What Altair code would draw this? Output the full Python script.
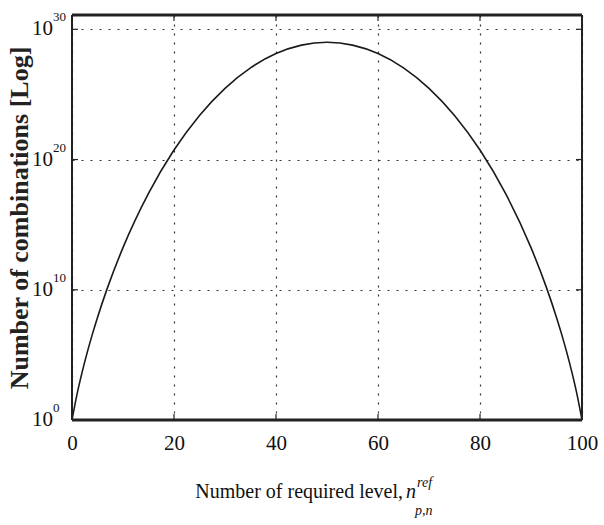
import altair as alt
import pandas as pd

# Number of combinations C(100, k) as log10 values, symmetric about k = 50
levels = [0, 1, 2, 3, 4, 5, 7, 10, 15, 20, 25, 30, 35, 40, 45, 50,
          55, 60, 65, 70, 75, 80, 85, 90, 93, 95, 96, 97, 98, 99, 100]
log_combinations = [0.0, 2.000, 3.695, 5.209, 6.593, 7.877, 10.204, 13.238, 17.404,
                    20.729, 23.385, 25.468, 27.040, 28.138, 28.789, 29.004,
                    28.789, 28.138, 27.040, 25.468, 23.385, 20.729, 17.404, 13.238,
                    10.204, 7.877, 6.593, 5.209, 3.695, 2.000, 0.0]

x_ticks = [0, 20, 40, 60, 80, 100]
y_ticks = [0, 10, 20, 30]
y_exponents = ["0", "10", "20", "30"]

W, H = 510, 405
SERIF = "Liberation Serif"

curve_df = pd.DataFrame({"k": levels, "logc": log_combinations})
ylab_df = pd.DataFrame({"v": y_ticks, "exp": y_exponents})

x_scale = alt.Scale(domain=[0, 100], nice=False)
y_scale = alt.Scale(domain=[0, 31.1], nice=False)

curve = alt.Chart(curve_df).mark_line(
    color="#1a1a1a", strokeWidth=1.6, interpolate="monotone"
).encode(
    x=alt.X("k:Q", scale=x_scale, axis=alt.Axis(
        values=x_ticks, title=None, domain=False, ticks=False, labelFlush=False,
        labelFont=SERIF, labelFontSize=21, labelColor="#111", labelPadding=12,
        grid=True, gridDash=[2, 7], gridColor="#333", gridWidth=1.2,
    )),
    y=alt.Y("logc:Q", scale=y_scale, axis=alt.Axis(
        values=y_ticks, title=None, domain=False, ticks=False, labels=False,
        grid=True, gridDash=[2, 7], gridColor="#333", gridWidth=1.2,
    )),
)

# y tick labels drawn as 10 with a raised exponent
base_ten = alt.Chart(ylab_df).mark_text(
    font=SERIF, fontSize=21, align="right", baseline="middle", color="#111"
).encode(y=alt.Y("v:Q", scale=y_scale), x=alt.value(-19), text=alt.value("10"))

exponent = alt.Chart(ylab_df).mark_text(
    font=SERIF, fontSize=13, align="left", baseline="middle", dy=-12, color="#111"
).encode(y=alt.Y("v:Q", scale=y_scale), x=alt.value(-19), text="exp:N")

# frame: heavy top and bottom edges, lighter sides
frame_h = alt.Chart(pd.DataFrame({"y": [0, H]})).mark_rule(
    color="#222", strokeWidth=3
).encode(y=alt.Y("y:Q", scale=None), x=alt.value(0), x2=alt.value(W))
frame_v = alt.Chart(pd.DataFrame({"x": [0, W]})).mark_rule(
    color="#222", strokeWidth=2
).encode(x=alt.X("x:Q", scale=None), y=alt.value(0), y2=alt.value(H))

# inward tick marks on the frame
tick_df = pd.DataFrame({"k": x_ticks})
ticks_bottom = alt.Chart(tick_df).mark_rule(color="#222", strokeWidth=1.2).encode(
    x=alt.X("k:Q", scale=x_scale), y=alt.value(H), y2=alt.value(H - 6))
ticks_top = alt.Chart(tick_df).mark_rule(color="#222", strokeWidth=1.2).encode(
    x=alt.X("k:Q", scale=x_scale), y=alt.value(0), y2=alt.value(6))
ticks_left = alt.Chart(ylab_df).mark_rule(color="#222", strokeWidth=1.2).encode(
    y=alt.Y("v:Q", scale=y_scale), x=alt.value(0), x2=alt.value(6))
ticks_right = alt.Chart(ylab_df).mark_rule(color="#222", strokeWidth=1.2).encode(
    y=alt.Y("v:Q", scale=y_scale), x=alt.value(W), x2=alt.value(W - 6))


def label(text, x, y, size, style="normal", align="left"):
    return alt.Chart(pd.DataFrame({"t": [text]})).mark_text(
        font=SERIF, fontSize=size, fontStyle=style,
        align=align, baseline="alphabetic", color="#111",
    ).encode(text="t:N", x=alt.value(x), y=alt.value(y))


# x axis title with n^{ref}_{p,n}
x_title = label("Number of required level,", 331, 483, 20, align="right")
x_title_n = label("n", 334, 483, 20, style="italic")
x_title_sup = label("ref", 345, 472, 14, style="italic")
x_title_sub = label("p,n", 343, 500, 14, style="italic")

y_title = alt.Chart(pd.DataFrame({"t": ["Number of combinations [Log]"]})).mark_text(
    font=SERIF, fontSize=26, fontWeight="bold", align="center",
    baseline="middle", angle=270, color="#222",
).encode(text="t:N", x=alt.value(-52), y=alt.value(203))

chart = alt.layer(
    curve, frame_h, frame_v, ticks_bottom, ticks_top, ticks_left, ticks_right,
    base_ten, exponent, x_title, x_title_n, x_title_sup, x_title_sub, y_title,
).properties(
    width=W, height=H,
    autosize=alt.AutoSizeParams(type="none"),
    padding={"left": 72, "top": 15, "right": 22, "bottom": 105},
).configure_view(stroke=None).configure(background="white")

chart.save("out.html", embed_options={"renderer": "svg", "actions": False})
